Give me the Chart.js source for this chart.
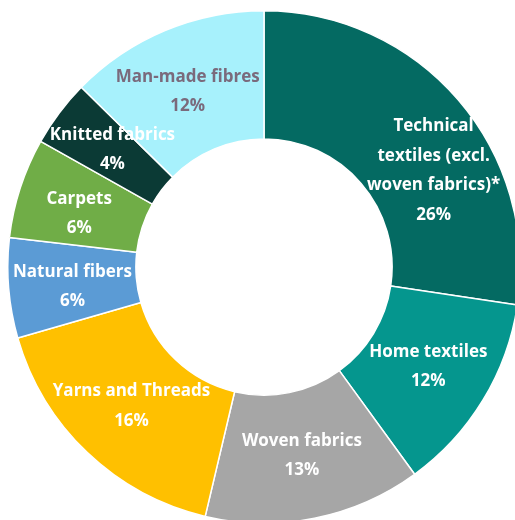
<!DOCTYPE html>
<html>
<head>
<meta charset="utf-8">
<script src="https://cdn.jsdelivr.net/npm/chart.js@4"></script>
<style>
  html, body { margin: 0; padding: 0; background: #ffffff; }
  body { width: 515px; height: 520px; overflow: hidden; position: relative; }
  #wrap { position: absolute; left: 7px; top: 10px; width: 514px; height: 514px; }
</style>
</head>
<body>
<div id="wrap"><canvas id="c"></canvas></div>
<script>
const categories = [
  ["Technical", "textiles (excl.", "woven fabrics)*"],
  ["Home textiles"],
  ["Woven fabrics"],
  ["Yarns and Threads"],
  ["Natural fibers"],
  ["Carpets"],
  ["Knitted fabrics"],
  ["Man-made fibres"]
];
const shares = [26, 12, 13, 16, 6, 6, 4, 12];
const sliceColors = ["#046a62", "#05968e", "#a6a6a6", "#ffc000", "#5b9bd5", "#70ad47", "#0b3a35", "#a7f1fc"];
const labelColors = ["#ffffff", "#ffffff", "#ffffff", "#ffffff", "#ffffff", "#ffffff", "#ffffff", "#7a6a7c"];
const labelNudge = [[24, 29], [0, 0], [0, 0], [0, 0], [0, 4], [-2, 6], [2, -2], [-2, 2]];

const sliceLabels = {
  id: 'sliceLabels',
  afterDatasetsDraw(chart) {
    const ctx = chart.ctx;
    const meta = chart.getDatasetMeta(0);
    const ds = chart.data.datasets[0];
    ctx.save();
    ctx.font = '700 17px "Open Sans"';
    ctx.textAlign = 'center';
    ctx.textBaseline = 'middle';
    const lh = 29.5;
    meta.data.forEach((arc, i) => {
      const p = arc.getProps(['x', 'y', 'startAngle', 'endAngle', 'innerRadius', 'outerRadius'], true);
      const mid = (p.startAngle + p.endAngle) / 2;
      const r = (p.innerRadius + p.outerRadius) / 2;
      const cx = p.x + Math.cos(mid) * r + labelNudge[i][0];
      const cy = p.y + Math.sin(mid) * r + labelNudge[i][1];
      const lines = chart.data.labels[i].concat([ds.data[i] + '%']);
      const top = cy - (lines.length - 1) * lh / 2;
      ctx.fillStyle = labelColors[i];
      lines.forEach((t, k) => ctx.fillText(t, cx, top + k * lh));
    });
    ctx.restore();
  }
};

new Chart(document.getElementById('c'), {
  type: 'doughnut',
  data: {
    labels: categories,
    datasets: [{
      data: shares,
      backgroundColor: sliceColors,
      borderColor: '#ffffff',
      borderWidth: 1.5
    }]
  },
  options: {
    responsive: true,
    maintainAspectRatio: false,
    animation: false,
    cutout: '50%',
    layout: { padding: 0 },
    plugins: {
      legend: { display: false },
      tooltip: { enabled: false }
    }
  },
  plugins: [sliceLabels]
});
</script>
</body>
</html>
